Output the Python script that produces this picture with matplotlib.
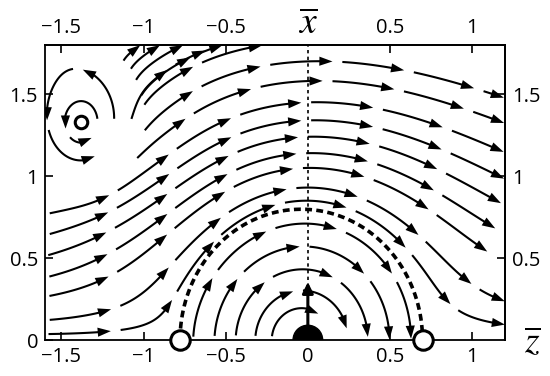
import math
import numpy as np
import matplotlib.pyplot as plt
from matplotlib.patches import Polygon, Wedge

plt.rcParams["font.family"] = ["Open Sans", "DejaVu Sans"]
plt.rcParams["mathtext.fontset"] = "stix"

# axes
Z_RANGE = (-1.6, 1.2)
X_RANGE = (0.0, 1.8)
Z_TICKS = [-1.5, -1, -0.5, 0, 0.5, 1]
Z_LABELS = ["−1.5", "−1", "−0.5", "0", "0.5", "1"]
Z_TICKS_TOP = [-1.5, -1, -0.5, 0.5, 1]
Z_LABELS_TOP = ["−1.5", "−1", "−0.5", "0.5", "1"]
X_TICKS = [0, 0.5, 1, 1.5]
X_LABELS = ["0", "0.5", "1", "1.5"]
X_TICKS_RIGHT = [0.5, 1, 1.5]
X_LABELS_RIGHT = ["0.5", "1", "1.5"]

# flow picture: recirculation bubble on the wall, outer swirl, top-left eddy
WALL_POINTS = [-0.78, 0.70]      # where the separatrix meets the wall
BUBBLE_TOP = 0.80
U_INF = 1.0
SWIRL = 0.86
WALL_LAYER = 0.25
EDDY_CENTER = (-1.38, 1.33)
EDDY_HALF = (0.30, 0.38)         # size of the closed eddy region
EDDY_KEEP_OUT = 1.25             # outer lines stop at this (scaled) distance
LIFT = 0.35                      # far-field pull of the eddy (upward band on its right)
LIFT_CORE = 0.3
LIFT_REACH = 0.8

# streamline seeds
CROSS_X = [1.70, 1.58, 1.45, 1.34, 1.24, 1.14, 1.05, 0.93, 0.85]   # outer lines at z = 0
INNER_X = [0.71, 0.57, 0.43, 0.30, 0.19]                           # bubble lines at z = 0
BAND_Z = [-1.02, -0.90, -0.76, -0.52, -0.27]                       # lines leaving the top
EDDY_R = [0.10, 0.20, 0.30]                                        # eddy loops
EDGE_X = [1.08, 1.62]                                              # lines from the left edge

SEG, GAP = 0.38, 0.06
HEAD_L, HEAD_W = 0.08, 0.028

ZC = 0.5 * (WALL_POINTS[0] + WALL_POINTS[1])
AH = 0.5 * (WALL_POINTS[1] - WALL_POINTS[0])
AV = BUBBLE_TOP


def psi(z, x):
    zeta = (z - ZC) / AH
    xi = x / AV
    r2 = max(zeta * zeta + xi * xi, 1e-10)
    lnr = 0.5 * math.log(r2)
    if r2 < 1:
        return lnr
    return U_INF * xi * (1 - 1 / r2) + SWIRL * lnr * (1 - math.exp(-x / WALL_LAYER))


def unit(a, b):
    n = math.hypot(a, b) + 1e-12
    return a / n, b / n


def eddy_q2(z, x):
    a, b = EDDY_HALF
    return ((z - EDDY_CENTER[0]) / a) ** 2 + ((x - EDDY_CENTER[1]) / b) ** 2


def vel(z, x, eddy=True):
    h = 1e-5
    uz = (psi(z, x + h) - psi(z, x - h)) / (2 * h)
    ux = -(psi(z + h, x) - psi(z - h, x)) / (2 * h)
    uz, ux = unit(uz, ux)
    if not eddy:
        return uz, ux
    dz, dx = z - EDDY_CENTER[0], x - EDDY_CENTER[1]
    # far field: counter-clockwise pull
    d = math.hypot(dz, dx) + 1e-12
    mag = LIFT * d / (d * d + LIFT_CORE ** 2) * math.exp(-0.5 * (d / LIFT_REACH) ** 2)
    uz, ux = unit(uz - mag * dx / d, ux + mag * dz / d)
    # core: closed counter-clockwise loops
    a, b = EDDY_HALF
    q2 = eddy_q2(z, x)
    w = math.exp(-0.5 * q2 * q2)
    ez, ex = unit(-dx / b ** 2, dz / a ** 2)
    return unit((1 - w) * uz + w * ez, (1 - w) * ux + w * ex)


def inside(z, x):
    return Z_RANGE[0] <= z <= Z_RANGE[1] and X_RANGE[0] <= x <= X_RANGE[1]


def trace(z, x, sign, max_len, ds=0.01, closed=False, eddy=True, keep_out=True):
    pts = [(z, x)]
    z0, x0 = z, x
    s = 0.0
    while s < max_len:
        k1 = vel(z, x, eddy)
        k2 = vel(z + 0.5 * ds * sign * k1[0], x + 0.5 * ds * sign * k1[1], eddy)
        k3 = vel(z + 0.5 * ds * sign * k2[0], x + 0.5 * ds * sign * k2[1], eddy)
        k4 = vel(z + ds * sign * k3[0], x + ds * sign * k3[1], eddy)
        zn = z + ds * sign * (k1[0] + 2 * k2[0] + 2 * k3[0] + k4[0]) / 6
        xn = x + ds * sign * (k1[1] + 2 * k2[1] + 2 * k3[1] + k4[1]) / 6
        if not inside(zn, xn) or zn * zn + xn * xn < 0.09 ** 2:
            break
        if keep_out and eddy_q2(zn, xn) < EDDY_KEEP_OUT ** 2:
            break
        z, x = zn, xn
        pts.append((z, x))
        s += ds
        if closed and s > 0.3 and math.hypot(z - z0, x - x0) < 0.02:
            break
    return pts


def full_line(z, x, max_len=8.0):
    back = trace(z, x, -1, max_len)
    fwd = trace(z, x, 1, max_len)
    return np.array(back[::-1] + fwd[1:])


def draw_arrows(ax, pts, seg=SEG, gap=GAP):
    if len(pts) < 2:
        return
    d = np.hypot(np.diff(pts[:, 0]), np.diff(pts[:, 1]))
    s = np.concatenate([[0], np.cumsum(d)])
    total = s[-1]
    start = 0.02
    while start + 0.12 < total:
        end = min(start + seg, total)
        ss = np.linspace(start, end - HEAD_L * 0.7, 30)
        ax.plot(np.interp(ss, s, pts[:, 0]), np.interp(ss, s, pts[:, 1]),
                color="k", lw=1.5, solid_capstyle="butt")
        tip = np.array([np.interp(end, s, pts[:, 0]), np.interp(end, s, pts[:, 1])])
        base = np.array([np.interp(end - HEAD_L, s, pts[:, 0]),
                         np.interp(end - HEAD_L, s, pts[:, 1])])
        t = tip - base
        t = t / (np.hypot(*t) + 1e-12)
        nrm = np.array([-t[1], t[0]])
        b = tip - HEAD_L * t
        ax.add_patch(Polygon([tip, b + HEAD_W * nrm, b - HEAD_W * nrm],
                             closed=True, color="k", lw=0, zorder=3))
        start = end + gap


fig = plt.figure(figsize=(5.5, 3.76), dpi=100)
ax = fig.add_axes([45 / 550, 36 / 376, 460 / 550, 295 / 376])
ax.set_xlim(*Z_RANGE)
ax.set_ylim(*X_RANGE)

for x0 in CROSS_X + INNER_X:
    draw_arrows(ax, full_line(0.0, x0))
for z0 in BAND_Z:
    draw_arrows(ax, full_line(z0, X_RANGE[1] - 0.001))
for x0 in EDGE_X:
    if eddy_q2(Z_RANGE[0], x0) >= EDDY_KEEP_OUT ** 2:
        draw_arrows(ax, full_line(Z_RANGE[0] + 0.001, x0))
for r in EDDY_R:
    loop = np.array(trace(EDDY_CENTER[0] + r, EDDY_CENTER[1], 1, 2.4,
                          closed=True, keep_out=False))
    draw_arrows(ax, loop[: int(len(loop) * 0.88)])

# separatrix of the bubble
sep = np.array(trace(WALL_POINTS[0] + 0.002, 0.002, 1, 4.0, eddy=False))
ax.plot(sep[:, 0], sep[:, 1], color="k", lw=2.6, linestyle=(0, (1.9, 1.2)), zorder=4)

# symmetry line, source, force arrow
ax.plot([0, 0], [0, X_RANGE[1]], color="k", lw=1.2, linestyle=(0, (2, 2)), zorder=2)
ax.add_patch(Wedge((0, 0), 0.09, 0, 180, color="k", zorder=5))
ax.annotate("", xy=(0, 0.37), xytext=(0, 0.06),
            arrowprops=dict(arrowstyle="-|>", lw=2.2, color="k", mutation_scale=16),
            zorder=6)
ax.plot(WALL_POINTS, [0, 0], "o", ms=14, mfc="white", mec="k", mew=2.2,
        clip_on=False, zorder=7)
ax.plot([EDDY_CENTER[0]], [EDDY_CENTER[1]], "o", ms=9, mfc="white", mec="k", mew=2.2, zorder=7)

ax.set_xticks(Z_TICKS, labels=Z_LABELS)
ax.set_yticks(X_TICKS, labels=X_LABELS)
ax.tick_params(direction="in", length=6, width=1.2, labelsize=14.5, pad=5)
top = ax.secondary_xaxis("top")
top.set_xticks(Z_TICKS_TOP, labels=Z_LABELS_TOP)
top.tick_params(direction="in", length=6, width=1.2, labelsize=14.5, pad=5)
right = ax.secondary_yaxis("right")
right.set_yticks(X_TICKS_RIGHT, labels=X_LABELS_RIGHT)
right.tick_params(direction="in", length=6, width=1.2, labelsize=14.5, pad=5)
for a in (ax, top, right):
    for sp in a.spines.values():
        sp.set_linewidth(1.3)

fig.text(308 / 550, 1 - 24 / 376, r"$\overline{x}$", fontsize=27, ha="center", va="center")
fig.text(532 / 550, 1 - 343 / 376, r"$\overline{z}$", fontsize=27, ha="center", va="center")

fig.savefig("out.png", dpi=100)
